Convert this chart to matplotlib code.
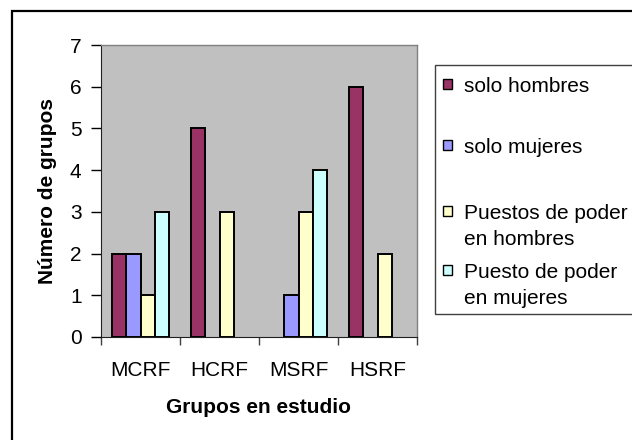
import matplotlib
matplotlib.use("Agg")
import matplotlib.pyplot as plt
from matplotlib.patches import Rectangle
import numpy as np

categories = ["MCRF", "HCRF", "MSRF", "HSRF"]
series_names = ["solo hombres", "solo mujeres", "Puestos de poder\nen hombres", "Puesto de poder\nen mujeres"]
solo_hombres = [2, 5, 0, 6]
solo_mujeres = [2, 0, 1, 0]
puestos_hombres = [1, 3, 3, 2]
puesto_mujeres = [3, 0, 4, 0]
series_values = [solo_hombres, solo_mujeres, puestos_hombres, puesto_mujeres]
colors = ["#993366", "#9999FF", "#FFFFCC", "#CCFFFF"]
y_ticks = [0, 1, 2, 3, 4, 5, 6, 7]

W, H = 632, 440
FS = 15
plt.rcParams['font.family'] = ['Liberation Sans', 'DejaVu Sans']
fig = plt.figure(figsize=(W / 100, H / 100), dpi=100)

def fx(px):
    return px / W

def fy(py):
    return 1 - py / H

# outer chart border
fig.patches.append(Rectangle((fx(11.5), fy(460)), fx(700) - fx(11.5), fy(10.5) - fy(460),
                             transform=fig.transFigure, fill=False, edgecolor="black", linewidth=1.6))

left, right, top, bottom = 101, 417, 45, 337
ax = fig.add_axes([fx(left), fy(bottom), fx(right) - fx(left), fy(top) - fy(bottom)])
ax.set_facecolor("#C0C0C0")

n_series = len(series_values)
gap = 1.5
bw = 1.0 / (n_series + gap)
x = np.arange(len(categories))
for i, (vals, c) in enumerate(zip(series_values, colors)):
    offs = -0.5 + gap * bw / 2 + bw * (i + 0.5)
    lws = [1.4 if v > 0 else 0 for v in vals]
    ax.bar(x + offs, vals, width=bw, color=c, edgecolor="black", linewidth=lws, zorder=3)

ax.set_xlim(-0.5, len(categories) - 0.5)
ax.set_ylim(0, 7)
ax.set_yticks(y_ticks)
ax.set_yticklabels([str(t) for t in y_ticks], fontsize=FS)
ax.set_xticks(np.arange(len(categories) + 1) - 0.5)
ax.set_xticklabels([])
ax.set_xticks(x, minor=True)
ax.set_xticklabels(categories, minor=True, fontsize=FS)
ax.tick_params(axis="x", which="minor", length=0, pad=17)
ax.tick_params(axis="x", which="major", length=6, width=1, color="#404040", direction="out")
ax.tick_params(axis="y", length=7, width=1, direction="out", pad=7)

for s in ["top", "right"]:
    ax.spines[s].set_color("#808080")
    ax.spines[s].set_linewidth(1)
ax.spines["left"].set_color("#202020")
ax.spines["bottom"].set_color("#202020")

ax.set_xlabel("Grupos en estudio", fontsize=FS, fontweight="bold")
ax.xaxis.set_label_coords(0.5, -(398 - bottom) / (bottom - top))
ax.set_ylabel("Número de grupos", fontsize=FS, fontweight="bold")
ax.yaxis.set_label_coords(-(left - 57) / (right - left), 0.5)

# legend box
lx0, ly0, ly1 = 435, 65, 314
fig.patches.append(Rectangle((fx(lx0), fy(ly1)), fx(700) - fx(lx0), fy(ly0) - fy(ly1),
                             transform=fig.transFigure, fill=True, facecolor="white",
                             edgecolor="#404040", linewidth=1.0))
baselines = [[92], [153], [219, 245], [278, 304]]
for name, c, bl in zip(series_names, colors, baselines):
    cy = bl[0] - 8
    fig.patches.append(Rectangle((fx(443), fy(cy + 5)), fx(452) - fx(443), fy(cy - 5) - fy(cy + 5),
                                 transform=fig.transFigure, facecolor=c, edgecolor="black", linewidth=1.0))
    for ln, b in zip(name.split("\n"), bl):
        fig.text(fx(464), fy(b), ln, fontsize=FS, va="baseline", ha="left")

fig.savefig("out.png", dpi=100)
